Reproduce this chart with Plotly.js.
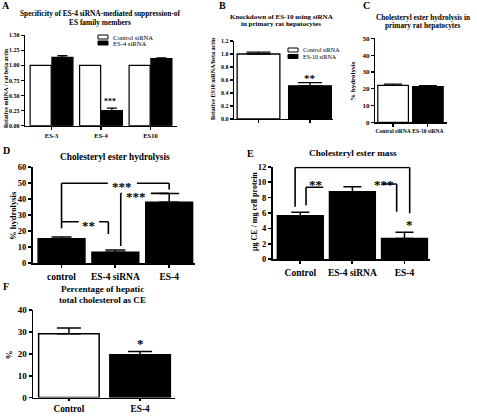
<!DOCTYPE html>
<html><head><meta charset="utf-8">
<script src="https://cdn.plot.ly/plotly-3.0.1.min.js"></script>
<style>html,body{margin:0;padding:0;background:#fff;}#chart{width:477px;height:416px;}</style>
</head><body><div id="chart"></div>
<script>
// ---------- DATA ----------
const aCategories = ['ES-3', 'ES-4', 'ES10'];
const aControl = [1.0, 1.0, 1.0];
const aSiRNA = [1.13, 0.25, 1.11];
const aSiRNAErr = [0.03, 0.04, 0.015];

const bCategories = ['Control siRNA', 'ES-10 siRNA'];
const bValues = [1.0, 0.51];
const bErr = [0.03, 0.05];

const cCategories = ['Control siRNA', 'ES-10 siRNA'];
const cValues = [22.0, 21.3];
const cErr = [0.8, 0.5];

const dCategories = ['control', 'ES-4 siRNA', 'ES-4'];
const dValues = [15.4, 6.9, 38.1];
const dErr = [1.0, 1.4, 5.6];

const eCategories = ['Control', 'ES-4 siRNA', 'ES-4'];
const eValues = [5.65, 8.76, 2.7];
const eErr = [0.45, 0.65, 0.8];

const fCategories = ['Control', 'ES-4'];
const fValues = [29.1, 19.5];
const fErr = [2.7, 1.5];

// ---------- LAYOUT HELPERS ----------
const W = 477, H = 416;
const FONT = 'Liberation Serif';
const px = p => p / W;
const py = p => 1 - p / H;
const zeros = n => new Array(n).fill(0);

function xAxis(l, r, range, size, lw, showLabels, anchor, tl) {
  return {
    domain: [px(l), px(r)], range: range, type: 'category', anchor: anchor,
    showline: true, linecolor: '#000', linewidth: lw, mirror: false,
    ticks: 'outside', ticklen: tl || 3, tickwidth: lw, tickcolor: '#000', tickangle: 0,
    showgrid: false, zeroline: false, showticklabels: showLabels,
    tickfont: {family: FONT, size: size, color: '#000', weight: 'bold'},
    fixedrange: true
  };
}
function yAxis(top, bottom, range, dtick, fmt, size, lw, anchor) {
  return {
    domain: [py(bottom), py(top)], range: range, dtick: dtick, tick0: 0, tickformat: fmt, anchor: anchor,
    showline: true, linecolor: '#000', linewidth: lw,
    ticks: 'outside', ticklen: 3, tickwidth: lw, tickcolor: '#000',
    showgrid: false, zeroline: false,
    tickfont: {family: FONT, size: size, color: '#000', weight: 'bold'},
    fixedrange: true
  };
}
function bar(cats, vals, errs, fill, w, off, lw, capHalf, xa, ya) {
  const t = {
    type: 'bar', x: cats, y: vals, xaxis: xa, yaxis: ya, width: w, offset: off,
    marker: {color: fill, line: {color: '#000', width: lw}}, hoverinfo: 'skip'
  };
  if (errs) t.error_y = {type: 'data', array: errs, arrayminus: zeros(errs.length), symmetric: false,
    color: '#000', thickness: lw, width: capHalf};
  return t;
}

const traces = [
  bar(aCategories, aControl, null, '#fff', 0.425, -0.432, 1.2, 5, 'x', 'y'),
  bar(aCategories, aSiRNA, aSiRNAErr, '#000', 0.425, 0.008, 1.2, 5, 'x', 'y'),
  bar(bCategories, bValues, bErr, ['#fff', '#000'], 0.83, -0.415, 1.3, 12, 'x2', 'y2'),
  bar(cCategories, cValues, cErr, ['#fff', '#000'], 0.88, -0.44, 1.2, 9, 'x3', 'y3'),
  bar(dCategories, dValues, dErr, '#000', 0.87, -0.435, 1.5, 10, 'x4', 'y4'),
  bar(eCategories, eValues, eErr, '#000', 0.88, -0.44, 1.5, 9, 'x5', 'y5'),
  bar(fCategories, fValues, fErr, ['#fff', '#000'], 0.85, -0.425, 1.5, 12, 'x6', 'y6')
];

// significance brackets (polylines in axis coordinates)
const bracketSets = [
  {xref: 'x4', yref: 'y4', lines: [
    [[0, 21.9], [0, 50], [0.86, 50]], [[1.40, 50], [2, 50], [2, 46.2]],
    [[0, 26], [0.32, 26]], [[0.70, 26], [0.87, 26], [0.87, 18.3]],
    [[1.10, 10.8], [1.10, 43.7], [1.12, 43.7]], [[1.66, 43.7], [2, 43.7]]
  ]},
  {xref: 'x5', yref: 'y5', lines: [
    [[-0.10, 6.8], [-0.10, 11.9], [2.1, 11.9], [2.1, 5.96]],
    [[0.11, 7.0], [0.11, 9.33], [0.44, 9.33]],
    [[1.56, 9.75], [1.85, 9.75], [1.85, 6.17]]
  ]}
];
const shapes = [];
bracketSets.forEach(s => s.lines.forEach(pl => {
  for (let i = 0; i < pl.length - 1; i++) {
    shapes.push({type: 'line', xref: s.xref, yref: s.yref, x0: pl[i][0], y0: pl[i][1], x1: pl[i + 1][0], y1: pl[i + 1][1],
      line: {color: '#000', width: 1.6}, layer: 'above'});
  }
}));
// legend keys (A and B)
function key(l, t, r, b, fill) {
  shapes.push({type: 'rect', xref: 'paper', yref: 'paper', x0: px(l), x1: px(r), y0: py(b), y1: py(t),
    fillcolor: fill, line: {color: '#000', width: 1}});
}
key(98, 35, 108, 39, '#fff');
key(98, 41, 108, 45, '#000');
key(288, 48, 298, 52, '#fff');
key(288, 54.5, 298, 58.5, '#000');

const ann = [];
function txt(x, y, text, size, opts) {
  ann.push(Object.assign({xref: 'paper', yref: 'paper', x: px(x), y: py(y), text: text, showarrow: false,
    xanchor: 'center', yanchor: 'middle', font: {family: FONT, size: size, color: '#000', weight: 'bold'}}, opts || {}));
}
function star(xa, ya, x, y, text, size, shift) {
  ann.push({xref: xa, yref: ya, x: x, y: y, text: text, showarrow: false, xanchor: 'center', yanchor: 'middle',
    yshift: shift, font: {family: FONT, size: size, color: '#000', weight: 'bold'}});
}
// panel letters
txt(6, 6, 'A', 10); txt(222, 6, 'B', 10); txt(366, 6, 'C', 10);
txt(6, 150, 'D', 10); txt(251, 153, 'E', 10); txt(6, 286, 'F', 10);
// titles
txt(100, 14, 'Specificity of ES-4 siRNA-mediated suppression-of', 7.4);
txt(100, 22.7, 'ES family members', 7.4);
txt(281, 16.7, 'Knockdown of ES-10 using siRNA', 7);
txt(281, 24, 'in primary rat hepatocytes', 7);
txt(423, 17.3, 'Cholesteryl ester hydrolysis in', 7.3);
txt(423, 25, 'primary rat hepatocytes', 7.3);
txt(115, 156.7, 'Cholesteryl ester hydrolysis', 9.3);
txt(353, 153.3, 'Cholesteryl ester mass', 9.2);
txt(102, 288.5, 'Percentage of hepatic', 9.1);
txt(102, 300, 'total cholesterol as CE', 9.1);
// y-axis titles
txt(6, 88, 'Relative mRNA / rat beta actin', 6, {textangle: -90});
txt(213, 79, 'Relative ES10 mRNA/beta actin', 6, {textangle: -90});
txt(353, 81, '% hydrolysis', 7, {textangle: -90});
txt(13, 216, '% hydrolysis', 8.6, {textangle: -90});
txt(254, 211, 'μg CE / mg cell protein', 8, {textangle: -90});
txt(8.5, 355, '%', 9, {textangle: -90});
// legends
txt(111, 37, 'Control siRNA', 6.6, {xanchor: 'left', font: {family: FONT, size: 6.6, color: '#000'}});
txt(111, 43.2, 'ES-4 siRNA', 6.6, {xanchor: 'left', font: {family: FONT, size: 6.6, color: '#000'}});
txt(301, 50, 'Control siRNA', 6, {xanchor: 'left', font: {family: FONT, size: 6, color: '#000'}});
txt(301, 56.5, 'ES-10 siRNA', 6, {xanchor: 'left', font: {family: FONT, size: 6, color: '#000'}});
// significance marks
star('x', 'y', 1.18, 0.43, '***', 8, -2);
star('x2', 'y2', 1, 0.68, '**', 11, -3);
star('x4', 'y4', 1.13, 50, '***', 13, -3.5);
star('x4', 'y4', 0.51, 26, '**', 13, -3.5);
star('x4', 'y4', 1.39, 43.7, '***', 13, -3.5);
star('x5', 'y5', 0.29, 9.33, '**', 13, 2.5);
star('x5', 'y5', 1.61, 9.75, '***', 13, 0);
star('x5', 'y5', 2.1, 4.9, '*', 13, -3.5);
star('x6', 'y6', 1, 26.5, '*', 13, -3.5);

const layout = {
  width: W, height: H, margin: {l: 0, r: 0, t: 0, b: 0}, autosize: false,
  paper_bgcolor: '#fff', plot_bgcolor: 'rgba(0,0,0,0)', showlegend: false, barmode: 'overlay',
  hovermode: false,
  xaxis: xAxis(25, 176.7, [-0.536, 2.53], 6.5, 1.2, true, 'y'),
  yaxis: yAxis(35.1, 125.7, [0, 1.5], 0.25, '.2f', 6, 1.2, 'x'),
  xaxis2: xAxis(234, 333, [-0.476, 1.447], 6, 1.3, false, 'y2'),
  yaxis2: yAxis(41, 119, [0, 1.2], 0.2, '.1f', 6, 1.3, 'x2'),
  xaxis3: xAxis(375, 447, [-0.52, 1.55], 5.5, 1.2, true, 'y3'),
  yaxis3: yAxis(38.3, 122.3, [0, 50], 10, 'd', 7, 1.2, 'x3'),
  xaxis4: xAxis(32.7, 195, [-0.536, 2.48], 9.5, 1.8, true, 'y4'),
  yaxis4: yAxis(167.3, 263.3, [0, 60], 10, 'd', 8.5, 1.8, 'x4'),
  xaxis5: xAxis(272.7, 430, [-0.53, 2.49], 9.5, 1.8, true, 'y5'),
  yaxis5: yAxis(166.7, 259.3, [0, 12], 2, 'd', 8.5, 1.8, 'x5'),
  xaxis6: xAxis(33.3, 175, [-0.5, 1.49], 9.3, 1.8, true, 'y6', 2),
  yaxis6: yAxis(310, 397.5, [0, 40], 10, 'd', 9, 1.8, 'x6'),
  shapes: shapes, annotations: ann
};
Plotly.newPlot('chart', traces, layout, {staticPlot: true, displayModeBar: false});
</script></body></html>
